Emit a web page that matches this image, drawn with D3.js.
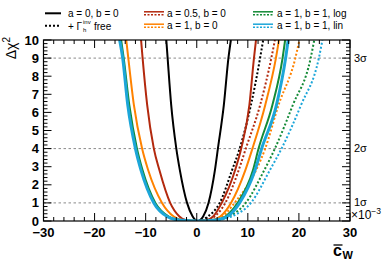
<!DOCTYPE html>
<html><head><meta charset="utf-8">
<script src="https://cdn.jsdelivr.net/npm/d3@7"></script>
<style>body{margin:0;background:#fff}svg{display:block}text{font-family:"Liberation Sans",Arial,sans-serif}</style>
</head><body>
<script>
// ---- data ----
const dchi2Levels = [10, 9, 6.4, 4, 2.8, 1, 0.25, 0.05];
const seriesNames = ["a = 0, b = 0", "a = 0.5, b = 0", "a = 1, b = 0", "a = 1, b = 1, log", "a = 1, b = 1, lin"];
const minimumCw = [0.2, 0.3, 0.3, 0.3, 0.3];
const leftBranch = [
  [-5.96, -5.7, -5.0, -4.0, -3.3, -1.9, -0.8, -0.25],
  [-10.9, -10.6, -9.7, -8.4, -7.3, -5.2, -3.4, -2.2],
  [-13.8, -13.4, -12.3, -10.7, -9.5, -6.8, -4.5, -2.8],
  [-14.8, -14.3, -13.2, -11.7, -10.6, -8.1, -5.5, -3.3],
  [-15.1, -14.5, -13.5, -12.0, -10.9, -8.4, -5.8, -3.5]
];
const rightBranch = [
  [6.68, 6.2, 5.3, 4.14, 3.55, 2.3, 1.25, 0.65],
  [11.6, 11.2, 10.3, 8.7, 7.5, 4.9, 3.2, 2.0],
  [16.1, 15.5, 13.4, 10.9, 9.5, 6.7, 4.6, 3.0],
  [17.3, 16.8, 14.8, 12.1, 11.0, 8.0, 5.6, 3.5],
  [17.9, 17.4, 15.6, 12.7, 11.4, 8.4, 6.0, 3.7]
];
const rightBranchFree = [
  [13.0, 12.4, 10.6, 8.4, 6.9, 4.5, 2.2, 1.0],
  [15.3, 14.6, 12.4, 9.6, 8.2, 5.6, 3.5, 2.2],
  [20.1, 19.3, 16.0, 13.4, 11.6, 7.4, 5.0, 3.2],
  [23.0, 22.3, 18.8, 15.3, 13.2, 9.6, 6.3, 3.8],
  [24.6, 23.9, 20.4, 16.6, 14.3, 10.6, 6.8, 4.2]
];
const xTicks = [-30, -20, -10, 0, 10, 20, 30];
const yTicks = [0,1,2,3,4,5,6,7,8,9,10];
const sigmaLevels = [1, 4, 9];
const sigmaLabels = ["1σ", "2σ", "3σ"];

// ---- styles ----
const colors = ["#000000", "#b3290e", "#ff8200", "#138a36", "#1ca6d9"];
const widths = [2, 2, 2, 2, 3];

const W = 390, H = 265;
const L = 43.5, R = 350, T = 40, B = 221;
const svg = d3.select("body").append("svg").attr("width", W).attr("height", H);
const x = d3.scaleLinear().domain([-30, 30]).range([L, R]);
const y = d3.scaleLinear().domain([0, 10]).range([B, T]);

svg.append("clipPath").attr("id", "clip").append("rect")
  .attr("x", L).attr("y", T).attr("width", R - L).attr("height", B - T);

// sigma dashed lines
svg.selectAll(".sig").data(sigmaLevels).enter().append("line")
  .attr("x1", L).attr("x2", R).attr("y1", d => y(d)).attr("y2", d => y(d))
  .attr("stroke", "#8a8a8a").attr("stroke-width", 1).attr("stroke-dasharray", "2.5,2.5");

const line = d3.line().x(d => x(d[0])).y(d => y(d[1])).curve(d3.curveMonotoneX);
const g = svg.append("g").attr("clip-path", "url(#clip)");

seriesNames.forEach((n, i) => {
  const ptsF = [[minimumCw[i], 0]];
  for (let k = dchi2Levels.length - 1; k >= 0; k--) ptsF.push([rightBranchFree[i][k], dchi2Levels[k]]);
  g.append("path").datum(ptsF).attr("d", line).attr("fill", "none")
    .attr("stroke", colors[i]).attr("stroke-width", 2).attr("stroke-dasharray", "2,2");
});
seriesNames.forEach((n, i) => {
  const pts = [];
  dchi2Levels.forEach((lv, k) => pts.push([leftBranch[i][k], lv]));
  pts.push([minimumCw[i], 0]);
  for (let k = dchi2Levels.length - 1; k >= 0; k--) pts.push([rightBranch[i][k], dchi2Levels[k]]);
  g.append("path").datum(pts).attr("d", line).attr("fill", "none")
    .attr("stroke", colors[i]).attr("stroke-width", widths[i]);
});

// axes (ROOT style, ticks inside)
const xMinor = d3.range(-30, 30.01, 2);
const yMinor = d3.range(0, 10.001, 0.2);
const axG = svg.append("g").attr("stroke", "#000").attr("stroke-width", 1);
xMinor.forEach(v => {
  const major = Math.abs(v % 10) < 1e-6;
  const len = major ? 8 : 4;
  axG.append("line").attr("x1", x(v)).attr("x2", x(v)).attr("y1", B).attr("y2", B - len);
  axG.append("line").attr("x1", x(v)).attr("x2", x(v)).attr("y1", T).attr("y2", T + len);
});
yMinor.forEach(v => {
  const major = Math.abs(v - Math.round(v)) < 1e-6;
  const len = major ? 8 : 4;
  axG.append("line").attr("x1", L).attr("x2", L + len).attr("y1", y(v)).attr("y2", y(v));
  axG.append("line").attr("x1", R).attr("x2", R - len).attr("y1", y(v)).attr("y2", y(v));
});
svg.append("rect").attr("x", L).attr("y", T).attr("width", R - L).attr("height", B - T)
  .attr("fill", "none").attr("stroke", "#000").attr("stroke-width", 1.2);

// tick labels
svg.selectAll(".xl").data(xTicks).enter().append("text")
  .attr("x", d => x(d)).attr("y", 237).attr("text-anchor", "middle")
  .attr("font-size", 13).attr("font-weight", "bold")
  .text(d => d < 0 ? "\u2212" + Math.abs(d) : d);
svg.selectAll(".yl").data(yTicks).enter().append("text")
  .attr("x", 39).attr("y", d => y(d) + 4.5).attr("text-anchor", "end")
  .attr("font-size", 13).attr("font-weight", "bold").text(d => d);

// sigma labels
svg.selectAll(".sl").data(sigmaLevels).enter().append("text")
  .attr("x", 354).attr("y", d => y(d) + 3.5).attr("font-size", 11).text((d, i) => sigmaLabels[i]);
const ex = svg.append("text").attr("x", 351).attr("y", 218.5).attr("font-size", 12);
ex.append("tspan").text("×10");
ex.append("tspan").attr("font-size", 8.5).attr("dy", -5).text("−3");

// axis titles
svg.append("text").attr("transform", "translate(16,37) rotate(-90)").attr("text-anchor", "end")
  .attr("font-size", 14).call(t => {
    t.append("tspan").text("Δχ");
    t.append("tspan").attr("font-size", 10).attr("dy", -6).text("2");
  });
const xt = svg.append("g");
xt.append("text").attr("x", 333).attr("y", 256).attr("font-size", 16).attr("font-weight", "bold").text("c");
xt.append("line").attr("x1", 333.5).attr("x2", 342.5).attr("y1", 245).attr("y2", 245)
  .attr("stroke", "#000").attr("stroke-width", 1.3);
xt.append("text").attr("x", 342.5).attr("y", 259).attr("font-size", 11).attr("font-weight", "bold").text("W");

// legend
const legRows = [
  {col: 0, row: 0, idx: 0, mode: "solid"},
  {col: 0, row: 1, idx: 0, mode: "dot"},
  {col: 1, row: 0, idx: 1, mode: "both"},
  {col: 1, row: 1, idx: 2, mode: "both"},
  {col: 2, row: 0, idx: 3, mode: "both"},
  {col: 2, row: 1, idx: 4, mode: "both"}
];
const colX = [45, 144, 253];
const textX = [68, 167, 277];
const rowY = [13.3, 25.7];
const lg = svg.append("g");
legRows.forEach(r => {
  const x0 = colX[r.col], x1 = x0 + 16, yy = rowY[r.row];
  if (r.mode === "solid") {
    lg.append("line").attr("x1", x0).attr("x2", x1).attr("y1", yy).attr("y2", yy)
      .attr("stroke", colors[r.idx]).attr("stroke-width", 2);
  } else if (r.mode === "dot") {
    lg.append("line").attr("x1", x0).attr("x2", x1).attr("y1", yy).attr("y2", yy)
      .attr("stroke", colors[r.idx]).attr("stroke-width", 2).attr("stroke-dasharray", "2,2");
  } else {
    lg.append("line").attr("x1", x0).attr("x2", x1 + 4).attr("y1", yy - 1.5).attr("y2", yy - 1.5)
      .attr("stroke", colors[r.idx]).attr("stroke-width", 1.5);
    lg.append("line").attr("x1", x0).attr("x2", x1 + 4).attr("y1", yy + 1.5).attr("y2", yy + 1.5)
      .attr("stroke", colors[r.idx]).attr("stroke-width", 1.5).attr("stroke-dasharray", "2,1.5");
  }
  if (!(r.col === 0 && r.row === 1)) {
    lg.append("text").attr("x", textX[r.col]).attr("y", yy + 3.7).attr("font-size", 10)
      .text(seriesNames[r.idx]);
  }
});
lg.append("text").attr("x", 68).attr("y", 29.5).attr("font-size", 10).text("+ Γ");
lg.append("text").attr("x", 83).attr("y", 23.5).attr("font-size", 6).text("inv");
lg.append("text").attr("x", 83).attr("y", 32).attr("font-size", 6).text("h");
lg.append("text").attr("x", 94).attr("y", 29.5).attr("font-size", 10).text("free");
</script>
</body></html>
